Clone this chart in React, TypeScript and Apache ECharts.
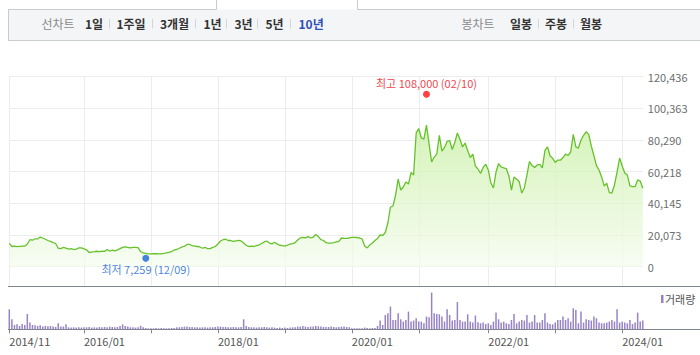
import { useEffect, useRef } from 'react';
import * as echarts from 'echarts';

const FONT = '"Noto Sans CJK KR", "Noto Sans", sans-serif';

// Biweekly closing prices (KRW), first point 2014/11/21, step 14 days
const START_YMD = [2014, 10, 21];
const STEP_DAYS = 14;
const prices = [
  14800, 12800, 13000, 12700, 12900, 13100, 13000, 14400, 17100, 16800,
  17700, 17600, 18800, 18200, 17400, 16600, 16000, 15300, 14700, 11700,
  11500, 12200, 11700, 11200, 11500, 10900, 11200, 11900, 11900, 11300,
  10700, 9000, 9300, 9500, 9800, 9600, 9800, 9700, 10900, 9800,
  10500, 10100, 10700, 11500, 12300, 12600, 12300, 11900, 12200, 12200,
  12100, 9600, 8700, 8400, 8100, 8100, 8200, 8300, 8100, 8200,
  8400, 8700, 9100, 9500, 10600, 10900, 11700, 12500, 12900, 14100,
  14200, 13300, 13100, 12800, 12500, 11700, 12300, 11400, 11500, 12200,
  12800, 14400, 16300, 17100, 17400, 16600, 16600, 16100, 16400, 16700,
  16300, 15000, 13600, 12800, 13100, 12800, 13400, 13800, 14700, 15700,
  16300, 15000, 14500, 15500, 14500, 13600, 13300, 13100, 13600, 14400,
  14600, 15300, 16900, 18200, 18600, 18300, 19100, 18200, 18800, 20400,
  19100, 17200, 16600, 15200, 14900, 15000, 15200, 15700, 16000, 18200,
  17900, 17900, 18200, 18600, 18600, 18500, 18200, 17600, 13100, 11900,
  13800, 15000, 16600, 17900, 20100, 19800, 21700, 27700, 37700, 38500,
  45400, 55600, 48600, 50500, 53700, 52400, 59700, 58100, 84800, 87600,
  81600, 80900, 89800, 77800, 66400, 69500, 71400, 83200, 73300, 75600,
  79400, 80000, 74300, 78700, 84800, 80800, 75900, 78400, 73700, 69200,
  71400, 63800, 61900, 59100, 62900, 65000, 61300, 53100, 49900, 60000,
  65400, 63200, 62600, 62200, 57500, 48600, 56900, 55400, 54000, 46700,
  49900, 58100, 66700, 64100, 62900, 64500, 64800, 62600, 73700, 75900,
  70200, 68700, 66100, 67600, 67500, 69200, 71400, 70500, 72700, 83900,
  75900, 75200, 80300, 83300, 85500, 83900, 76500, 70500, 64100, 61300,
  56900, 51200, 52900, 47000, 46700, 51800, 60000, 68900, 63800, 59400,
  58100, 51200, 50800, 50700, 55000, 54300, 49700,
];

// Biweekly volume (10k shares)
const volumes = [
  200, 100, 43, 50, 33, 53, 43, 153, 67, 43,
  40, 33, 40, 27, 33, 30, 33, 27, 23, 60,
  27, 27, 50, 20, 17, 20, 17, 20, 17, 20,
  20, 23, 17, 20, 17, 23, 20, 23, 20, 27,
  23, 20, 23, 33, 50, 33, 27, 20, 20, 17,
  20, 35, 20, 13, 10, 10, 10, 13, 10, 13,
  10, 10, 10, 13, 13, 20, 20, 23, 27, 27,
  23, 23, 20, 20, 17, 20, 20, 17, 20, 20,
  23, 27, 27, 23, 23, 20, 20, 23, 20, 20,
  23, 100, 33, 23, 20, 20, 17, 20, 20, 23,
  20, 17, 20, 17, 13, 17, 13, 17, 13, 17,
  20, 20, 27, 27, 33, 27, 23, 27, 27, 33,
  30, 27, 23, 23, 23, 27, 23, 20, 23, 27,
  27, 23, 20, 10, 10, 10, 10, 10, 17, 13,
  10, 13, 13, 33, 87, 43, 143, 160, 227, 93,
  93, 160, 100, 77, 93, 177, 77, 87, 110, 77,
  77, 60, 127, 120, 367, 160, 153, 150, 127, 77,
  200, 143, 87, 93, 273, 93, 77, 77, 150, 77,
  67, 137, 70, 60, 67, 53, 60, 43, 77, 167,
  100, 67, 77, 60, 53, 93, 153, 60, 77, 93,
  87, 143, 67, 77, 143, 67, 67, 93, 160, 67,
  53, 50, 67, 93, 93, 127, 93, 110, 77, 210,
  193, 60, 177, 67, 100, 93, 87, 127, 110, 67,
  60, 60, 67, 77, 93, 77, 200, 67, 77, 67,
  60, 93, 53, 67, 167, 77, 87,
];
const VOLUME_AXIS_MAX = 433;

const yTickLabels = ['0', '20,073', '40,145', '60,218', '80,290', '100,363', '120,436'];
const Y_MAX = 120436;

const tickYears = [2016, 2017, 2018, 2019, 2020, 2021, 2022, 2023, 2024];
const labelYears = [2016, 2018, 2020, 2022, 2024];
const firstLabel = '2014/11';

const extremeDates = ['2021/02/10', '2016/12/09'];
const extremeValues = [108000, 7259];
const extremeNames = ['최고', '최저'];
const extremeShort = ['02/10', '12/09'];

const lineTabs = ['1일', '1주일', '3개월', '1년', '3년', '5년', '10년'];
const candleTabs = ['일봉', '주봉', '월봉'];

const DAY = 86400000;
const startMs = Date.UTC(START_YMD[0], START_YMD[1], START_YMD[2]);
const dates: number[] = prices.map((_, i) => startMs + i * STEP_DAYS * DAY);
const pad = (n: number) => String(n).padStart(2, '0');
const categories = dates.map((t) => {
  const d = new Date(t);
  return `${d.getUTCFullYear()}/${pad(d.getUTCMonth() + 1)}/${pad(d.getUTCDate())}`;
});
const nearestIndex = (t: number) => {
  let best = 0;
  for (let i = 1; i < dates.length; i++) {
    if (Math.abs(dates[i] - t) < Math.abs(dates[best] - t)) best = i;
  }
  return best;
};
const parseDate = (s: string) => {
  const [y, m, d] = s.split('/').map(Number);
  return Date.UTC(y, m - 1, d);
};
const tickSet = new Set<number>([0]);
tickYears.forEach((y) => tickSet.add(nearestIndex(Date.UTC(y, 0, 1))));
const labelMap = new Map<number, string>([[0, firstLabel]]);
labelYears.forEach((y) => labelMap.set(nearestIndex(Date.UTC(y, 0, 1)), `${y}/01`));
const extremeIdx = extremeDates.map((s) => nearestIndex(parseDate(s)));

export default function App() {
  const ref = useRef<HTMLDivElement>(null);
  useEffect(() => {
    if (!ref.current) return;
    const chart = echarts.init(ref.current, undefined, { renderer: 'svg' });
    const gridColor = '#ececec';
    const axisDark = '#80868f';

    const graphic: any[] = [];
    // top control bar
    graphic.push(
      { type: 'rect', shape: { x: 8, y: 9.5, width: 700, height: 30.5 }, style: { fill: '#f4f5f7' }, silent: true },
      { type: 'line', shape: { x1: 8, y1: 9.5, x2: 216.5, y2: 9.5 }, style: { stroke: '#c8cbd0', lineWidth: 1 } },
      { type: 'line', shape: { x1: 357.5, y1: 9.5, x2: 700, y2: 9.5 }, style: { stroke: '#c8cbd0', lineWidth: 1 } },
      { type: 'line', shape: { x1: 216.5, y1: 0, x2: 216.5, y2: 9.5 }, style: { stroke: '#c8cbd0', lineWidth: 1 } },
      { type: 'line', shape: { x1: 357.5, y1: 0, x2: 357.5, y2: 9.5 }, style: { stroke: '#c8cbd0', lineWidth: 1 } },
      { type: 'line', shape: { x1: 8.5, y1: 9.5, x2: 8.5, y2: 40.5 }, style: { stroke: '#c8cbd0', lineWidth: 1 } },
      { type: 'line', shape: { x1: 8, y1: 40.5, x2: 700, y2: 40.5 }, style: { stroke: '#c8cbd0', lineWidth: 1 } },
    );
    const ty = 23.5;
    const addText = (text: string, x: number, color: string, bold: boolean) =>
      graphic.push({
        type: 'text', x, y: ty,
        style: { text, fill: color, font: `${bold ? 'bold ' : ''}12px ${FONT}`, textAlign: 'left', textVerticalAlign: 'middle' },
      });
    const addSep = (x: number) =>
      graphic.push({ type: 'line', shape: { x1: x, y1: 19, x2: x, y2: 28.5 }, style: { stroke: '#d3d5d9', lineWidth: 1 } });
    addText('선차트', 41.5, '#8a8a8a', false);
    const lineX = [85, 116.5, 160, 203.5, 234.5, 265.5, 298.5];
    const lineSepX = [109.5, 152.5, 195.5, 226.5, 257.5, 290.5];
    lineTabs.forEach((t, i) => addText(t, lineX[i], i === lineTabs.length - 1 ? '#2f4fb8' : '#333333', true));
    lineSepX.forEach(addSep);
    addText('봉차트', 461.5, '#8a8a8a', false);
    const candleX = [510, 545, 580];
    candleTabs.forEach((t, i) => addText(t, candleX[i], '#333333', true));
    [538.5, 573.5].forEach(addSep);

    // pane borders
    graphic.push(
      { type: 'line', shape: { x1: 8, y1: 286.5, x2: 700, y2: 286.5 }, style: { stroke: axisDark, lineWidth: 1 }, z: 10 },
      { type: 'line', shape: { x1: 8, y1: 329.5, x2: 700, y2: 329.5 }, style: { stroke: axisDark, lineWidth: 1 }, z: 10 },
    );
    // volume legend
    graphic.push(
      { type: 'rect', shape: { x: 661, y: 295, width: 2.5, height: 8 }, style: { fill: '#9783c6' } },
      { type: 'text', x: 665, y: 299, style: { text: '거래량', fill: '#555', font: `11px ${FONT}`, textAlign: 'left', textVerticalAlign: 'middle' } },
    );

    const tickInterval = (idx: number) => tickSet.has(idx);
    const mkX = (g: number) => ({
      type: 'category', gridIndex: g, data: categories, boundaryGap: false,
      axisLine: { show: g === 2, lineStyle: { color: axisDark } },
      axisTick: { show: g === 2, interval: tickInterval, length: 4, lineStyle: { color: axisDark } },
      axisLabel: {
        show: g === 2,
        interval: (idx: number) => labelMap.has(idx),
        formatter: (_v: string, idx: number) => labelMap.get(idx) ?? '',
        align: 'left', margin: 6, color: '#555', fontSize: 11, fontFamily: FONT,
      },
      splitLine: { show: g < 2, interval: tickInterval, lineStyle: { color: gridColor } },
    });

    const fmt = (v: number) => v.toLocaleString('en-US');
    const option: any = {
      animation: false,
      textStyle: { fontFamily: FONT },
      graphic,
      grid: [
        { left: 9.3, right: 57.2, top: 76.7, height: 190 },
        { left: 9.3, right: 57.2, top: 266.7, height: 19.3 },
        { left: 9.3, right: 57.2, top: 286, height: 43.3 },
      ],
      xAxis: [mkX(0), mkX(1), mkX(2)],
      yAxis: [
        {
          type: 'value', gridIndex: 0, position: 'right', min: 0, max: Y_MAX, interval: Y_MAX / 6,
          axisLine: { show: false }, axisTick: { show: false },
          axisLabel: {
            margin: 5, color: '#6e6e6e', fontSize: 11, fontFamily: FONT,
            formatter: (v: number) => yTickLabels[Math.round(v / (Y_MAX / 6))] ?? '',
          },
          splitLine: { lineStyle: { color: gridColor } },
        },
        { type: 'value', gridIndex: 1, min: 0, max: 1, show: false },
        { type: 'value', gridIndex: 2, min: 0, max: VOLUME_AXIS_MAX, show: false },
      ],
      series: [
        {
          type: 'line', xAxisIndex: 0, yAxisIndex: 0, data: prices, symbol: 'none',
          lineStyle: { color: '#66c22a', width: 1.3 },
          areaStyle: {
            color: new echarts.graphic.LinearGradient(0, 0, 0, 1, [
              { offset: 0, color: '#c4ee9c' },
              { offset: 1, color: '#f4fcee' },
            ]),
          },
          z: 2,
        },
        {
          type: 'scatter', xAxisIndex: 0, yAxisIndex: 0, symbolSize: 7, z: 5,
          data: [
            {
              value: [extremeIdx[0], extremeValues[0]], symbolOffset: [0, -2],
              itemStyle: { color: '#ff1010' },
              label: {
                show: true, position: 'top', distance: 2, color: '#ee0a14', fontSize: 11, fontFamily: FONT,
                formatter: `${extremeNames[0]} ${fmt(extremeValues[0])} (${extremeShort[0]})`,
              },
            },
            {
              value: [extremeIdx[1], extremeValues[1]], symbolOffset: [0, 3],
              itemStyle: { color: '#1565d8' },
              label: {
                show: true, position: 'bottom', distance: 2, color: '#1565d8', fontSize: 11, fontFamily: FONT,
                formatter: `${extremeNames[1]} ${fmt(extremeValues[1])} (${extremeShort[1]})`,
              },
            },
          ],
        },
        {
          type: 'bar', name: '거래량', xAxisIndex: 2, yAxisIndex: 2, data: volumes,
          barWidth: 1.5, itemStyle: { color: '#9783c6' },
        },
      ],
    };
    chart.setOption(option);
    return () => chart.dispose();
  }, []);
  return <div ref={ref} style={{ position: 'absolute', left: 0, top: 0, width: 700, height: 355 }} />;
}
